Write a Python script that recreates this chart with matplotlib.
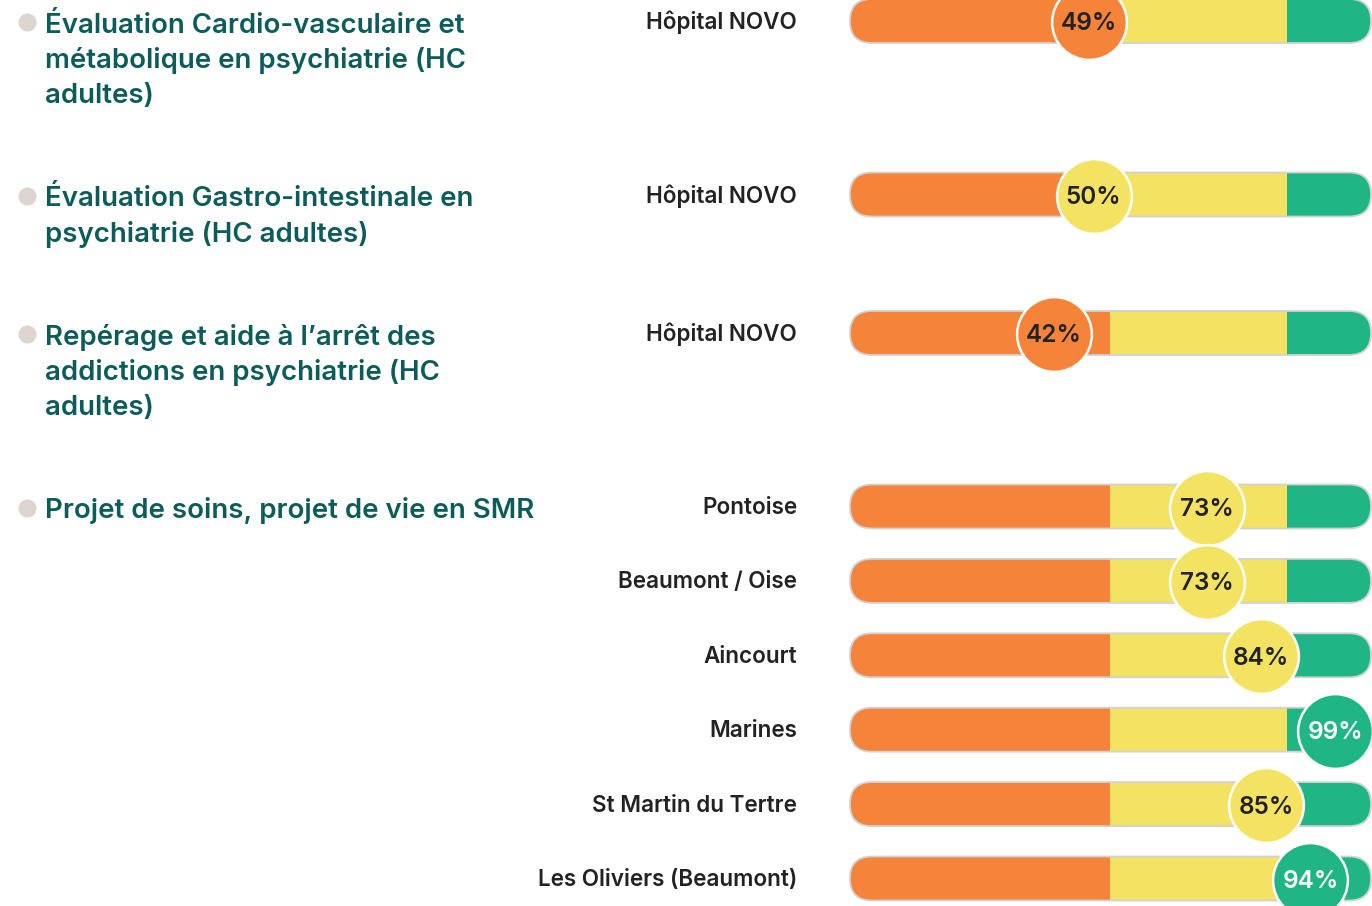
import matplotlib
matplotlib.use("Agg")
import matplotlib.pyplot as plt
from matplotlib.patches import FancyBboxPatch, Rectangle

plt.rcParams['font.family'] = ['Inter', 'DejaVu Sans']

# donnees
titres = ["Évaluation Cardio-vasculaire et\nmétabolique en psychiatrie (HC\nadultes)",
          "Évaluation Gastro-intestinale en\npsychiatrie (HC adultes)",
          "Repérage et aide à l’arrêt des\naddictions en psychiatrie (HC\nadultes)",
          "Projet de soins, projet de vie en SMR"]
etablissements = [["Hôpital NOVO"],
                  ["Hôpital NOVO"],
                  ["Hôpital NOVO"],
                  ["Pontoise", "Beaumont / Oise", "Aincourt", "Marines",
                   "St Martin du Tertre", "Les Oliviers (Beaumont)"]]
valeurs = [[49], [50], [42], [73, 73, 84, 99, 85, 94]]
seuils = [50, 90]          # orange < 50 <= jaune < 90 <= vert
bornes_barre = [0.6, 53.3, 89.2, 106.3]

orange = '#F5833A'
jaune = '#F4E263'
vert = '#1FB584'
couleurs = [orange, jaune, vert]

fig = plt.figure(figsize=(13.72, 9.06), dpi=100)
ax = fig.add_axes([0, 0, 1, 1])
ax.set_xlim(0, 1372)
ax.set_ylim(906, 0)
ax.axis('off')

bx = fig.add_axes([845 / 1372, 0, 527 / 1372, 1])
bx.set_xlim(-0.406, 106.49)
bx.set_ylim(906, 0)
bx.axis('off')
px_par_unite = 527 / (106.49 + 0.406)

def couleur(v):
    if v < seuils[0]:
        return orange
    if v < seuils[1]:
        return jaune
    return vert

y = 21
pas = 74.4
interligne = 35
for titre, etabs, vals in zip(titres, etablissements, valeurs):
    lignes = titre.split("\n")
    ax.scatter([27], [y + 1], s=170, color='#DDD6CF', zorder=2, lw=0)
    for j, l in enumerate(lignes):
        ax.text(45, y + 12 + j * interligne, l, ha='left', va='baseline', fontsize=19.9,
                fontweight='semibold', color='#0C5C5A')
    for i, (e, v) in enumerate(zip(etabs, vals)):
        yc = y + i * pas
        ax.text(797, yc + 1.5, e, ha='right', va='center', fontsize=16.2,
                fontweight='semibold', color='#222222')
        pill = FancyBboxPatch((bornes_barre[0], yc - 22), bornes_barre[-1] - bornes_barre[0], 44,
                              boxstyle="round,pad=0,rounding_size=4.46",
                              mutation_aspect=px_par_unite,
                              fc='none', ec='#D2D2D2', lw=1.3, zorder=3)
        bx.add_patch(pill)
        for k in range(3):
            r = Rectangle((bornes_barre[k], yc - 22), bornes_barre[k + 1] - bornes_barre[k], 44,
                          fc=couleurs[k], ec='none', zorder=2)
            bx.add_patch(r)
            r.set_clip_path(pill)
        c = couleur(v)
        bx.scatter([v], [yc + 1], s=2900, color=c, edgecolors='white', linewidths=1.8, zorder=4)
        bx.text(v, yc + 3, f"{v}%", ha='center', va='center', fontsize=17.5,
                fontweight='semibold', color='white' if c == vert else '#222222', zorder=5)
    hauteur = max(len(lignes) * interligne, (len(etabs) - 1) * pas + interligne)
    y += hauteur + 68.5

fig.savefig("out.png", dpi=100)
